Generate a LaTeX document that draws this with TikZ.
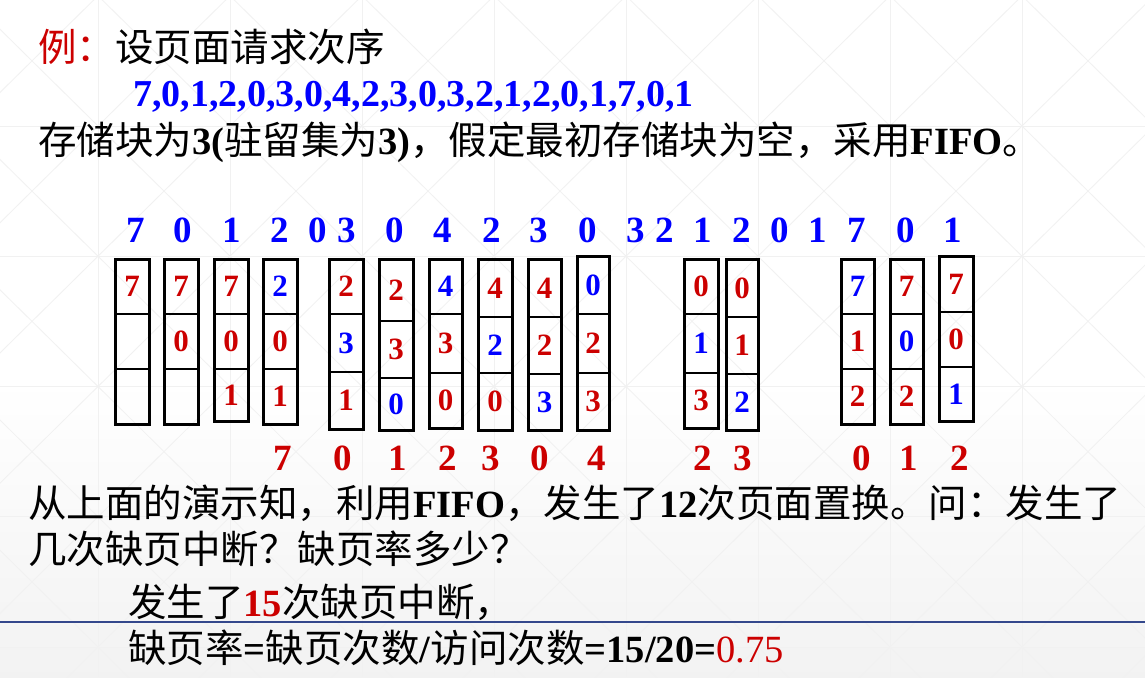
\documentclass[tikz,border=0pt]{standalone}
\usepackage{fontspec}
\setmainfont{Liberation Serif}
\newfontfamily\cjk{Noto Sans CJK SC}
\definecolor{myred}{RGB}{204,0,0}
\definecolor{myblue}{RGB}{0,0,255}
\definecolor{rulecol}{RGB}{52,72,140}
\definecolor{gridcol}{RGB}{241,241,241}
\tikzset{
  gridline/.style={gridcol, line width=0.8pt},
  pbox/.style={draw=black, line width=3pt, inner sep=0pt},
  divline/.style={black, line width=1.2pt},
  cellnum/.style={inner sep=0pt, font=\bfseries\fontsize{31}{31}\selectfont},
  topnum/.style={inner sep=0pt, text=myblue, font=\bfseries\fontsize{37}{37}\selectfont},
  botnum/.style={inner sep=0pt, text=myred, font=\bfseries\fontsize{37}{37}\selectfont},
  txt/.style={anchor=base west, inner sep=0pt, font=\fontsize{38.5}{44}\selectfont},
}
\begin{document}
\begin{tikzpicture}[x=1pt,y=-1pt]
\useasboundingbox (0,0) rectangle (1145,677);
% background
\fill[white] (0,0) rectangle (1145,677);
\shade[top color=white, bottom color=black!5] (0,380) rectangle (1145,677);
\begin{scope}
\clip (0,0) rectangle (1145,677);
\foreach \i in {-1,...,9}{
  \draw[gridline] ({-34+132*\i},0) -- ({-34+132*\i},677);
  \foreach \j in {0,...,5}{
    \draw[gridline] ({-34+132*\i},{-4.25+130.25*\j}) -- ({-34+132*(\i+1)},{-4.25+130.25*(\j+1)});
    \draw[gridline] ({-34+132*(\i+1)},{-4.25+130.25*\j}) -- ({-34+132*\i},{-4.25+130.25*(\j+1)});
  }
}
\foreach \j in {0,...,5}{
  \draw[gridline] (0,{-4.25+130.25*\j}) -- (1145,{-4.25+130.25*\j});
}
\end{scope}
% rule
\coordinate (ruleL) at (0,622);
\coordinate (ruleR) at (1145,622);
\draw[rulecol, line width=1.5pt] (ruleL) -- (ruleR);

% text
\node[txt] (l1) at (38,62) {{\cjk\color{myred}例：}{\cjk 设页面请求次序}};
\node[txt, text=myblue, font=\fontsize{38}{44}\selectfont] (l2) at (133,106) {\bfseries 7,0,1,2,0,3,0,4,2,3,0,3,2,1,2,0,1,7,0,1};
\node[txt] (l3) at (38,154) {{\cjk 存储块为}\textbf{3(}{\cjk 驻留集为}\textbf{3)}{\cjk ，假定最初存储块为空，采用}\textbf{FIFO}{\cjk 。}};
\node[txt] (l4) at (28,517) {{\cjk 从上面的演示知，利用}\textbf{FIFO}{\cjk ，发生了}\textbf{12}{\cjk 次页面置换。问：发生了}};
\node[txt] (l5) at (28,563) {{\cjk 几次缺页中断？缺页率多少？}};
\node[txt] (l6) at (128,616) {{\cjk 发生了}\textbf{\color{myred}15}{\cjk 次缺页中断，}};
\node[txt] (l7) at (128,662) {{\cjk 缺页率}\textbf{=}{\cjk 缺页次数}\textbf{/}{\cjk 访问次数}\textbf{=15/20=}{\color{myred}0.75}};

% top row (reference string)
\foreach \x/\d [count=\k] in {136/7,183/0,232/1,280/2,318/0,347/3,395/0,443/4,492/2,539/3,588/0,636/3,665/2,703/1,742/2,780/0,818/1,857/7,906/0,953/1}{
  \node[topnum] (t\k) at (\x,230) {\d};
}
% bottom row (replaced pages)
\foreach \x/\d [count=\k] in {283/7,343/0,398/1,448/2,491/3,540/0,597/4,703/2,743/3,862/0,909/1,960/2}{
  \node[botnum] (r\k) at (\x,458) {\d};
}
% frames
\foreach \n/\xl/\xr/\yt/\ya/\yb/\ybt/\p/\pc/\q/\qc/\r/\rc in {
  1/115/149/259/314/369/424/7/myred/{}/black/{}/black,
  2/164/198/259/314/369/424/7/myred/0/myred/{}/black,
  3/214/248/259/314/369/421/7/myred/0/myred/1/myred,
  4/263/297/259/314/369/424/2/myblue/0/myred/1/myred,
  5/329/363/259/314/372/429/2/myred/3/myblue/1/myred,
  6/379/413/259/321/378/430/2/myred/3/myred/0/myblue,
  7/429/462/259/314/373/428/4/myblue/3/myred/0/myred,
  8/478/512/259/317/373/430/4/myred/2/myblue/0/myred,
  9/528/561/259/317/374/430/4/myred/2/myred/3/myblue,
  10/577/609/256/314/373/430/0/myblue/2/myred/3/myred,
  11/684/718/259/314/373/428/0/myred/1/myblue/3/myred,
  12/726/758/259/317/374/430/0/myred/1/myred/2/myblue,
  13/841/874/259/314/369/424/7/myblue/1/myred/2/myred,
  14/890/923/259/314/369/424/7/myred/0/myblue/2/myred,
  15/939/973/256/312/367/421/7/myred/0/myred/1/myblue}{
  \draw[divline] (\xl,\ya) -- (\xr,\ya);
  \draw[divline] (\xl,\yb) -- (\xr,\yb);
  \node[pbox, minimum width={(\xr-\xl)*1pt}, minimum height={(\ybt-\yt)*1pt}] (box\n) at ({(\xl+\xr)/2},{(\yt+\ybt)/2}) {};
  \node[cellnum, text=\pc] (c\n a) at ({(\xl+\xr)/2},{(\yt+\ya)/2}) {\p};
  \node[cellnum, text=\qc] (c\n b) at ({(\xl+\xr)/2},{(\ya+\yb)/2}) {\q};
  \node[cellnum, text=\rc] (c\n c) at ({(\xl+\xr)/2},{(\yb+\ybt)/2}) {\r};
}
\end{tikzpicture}
\end{document}
